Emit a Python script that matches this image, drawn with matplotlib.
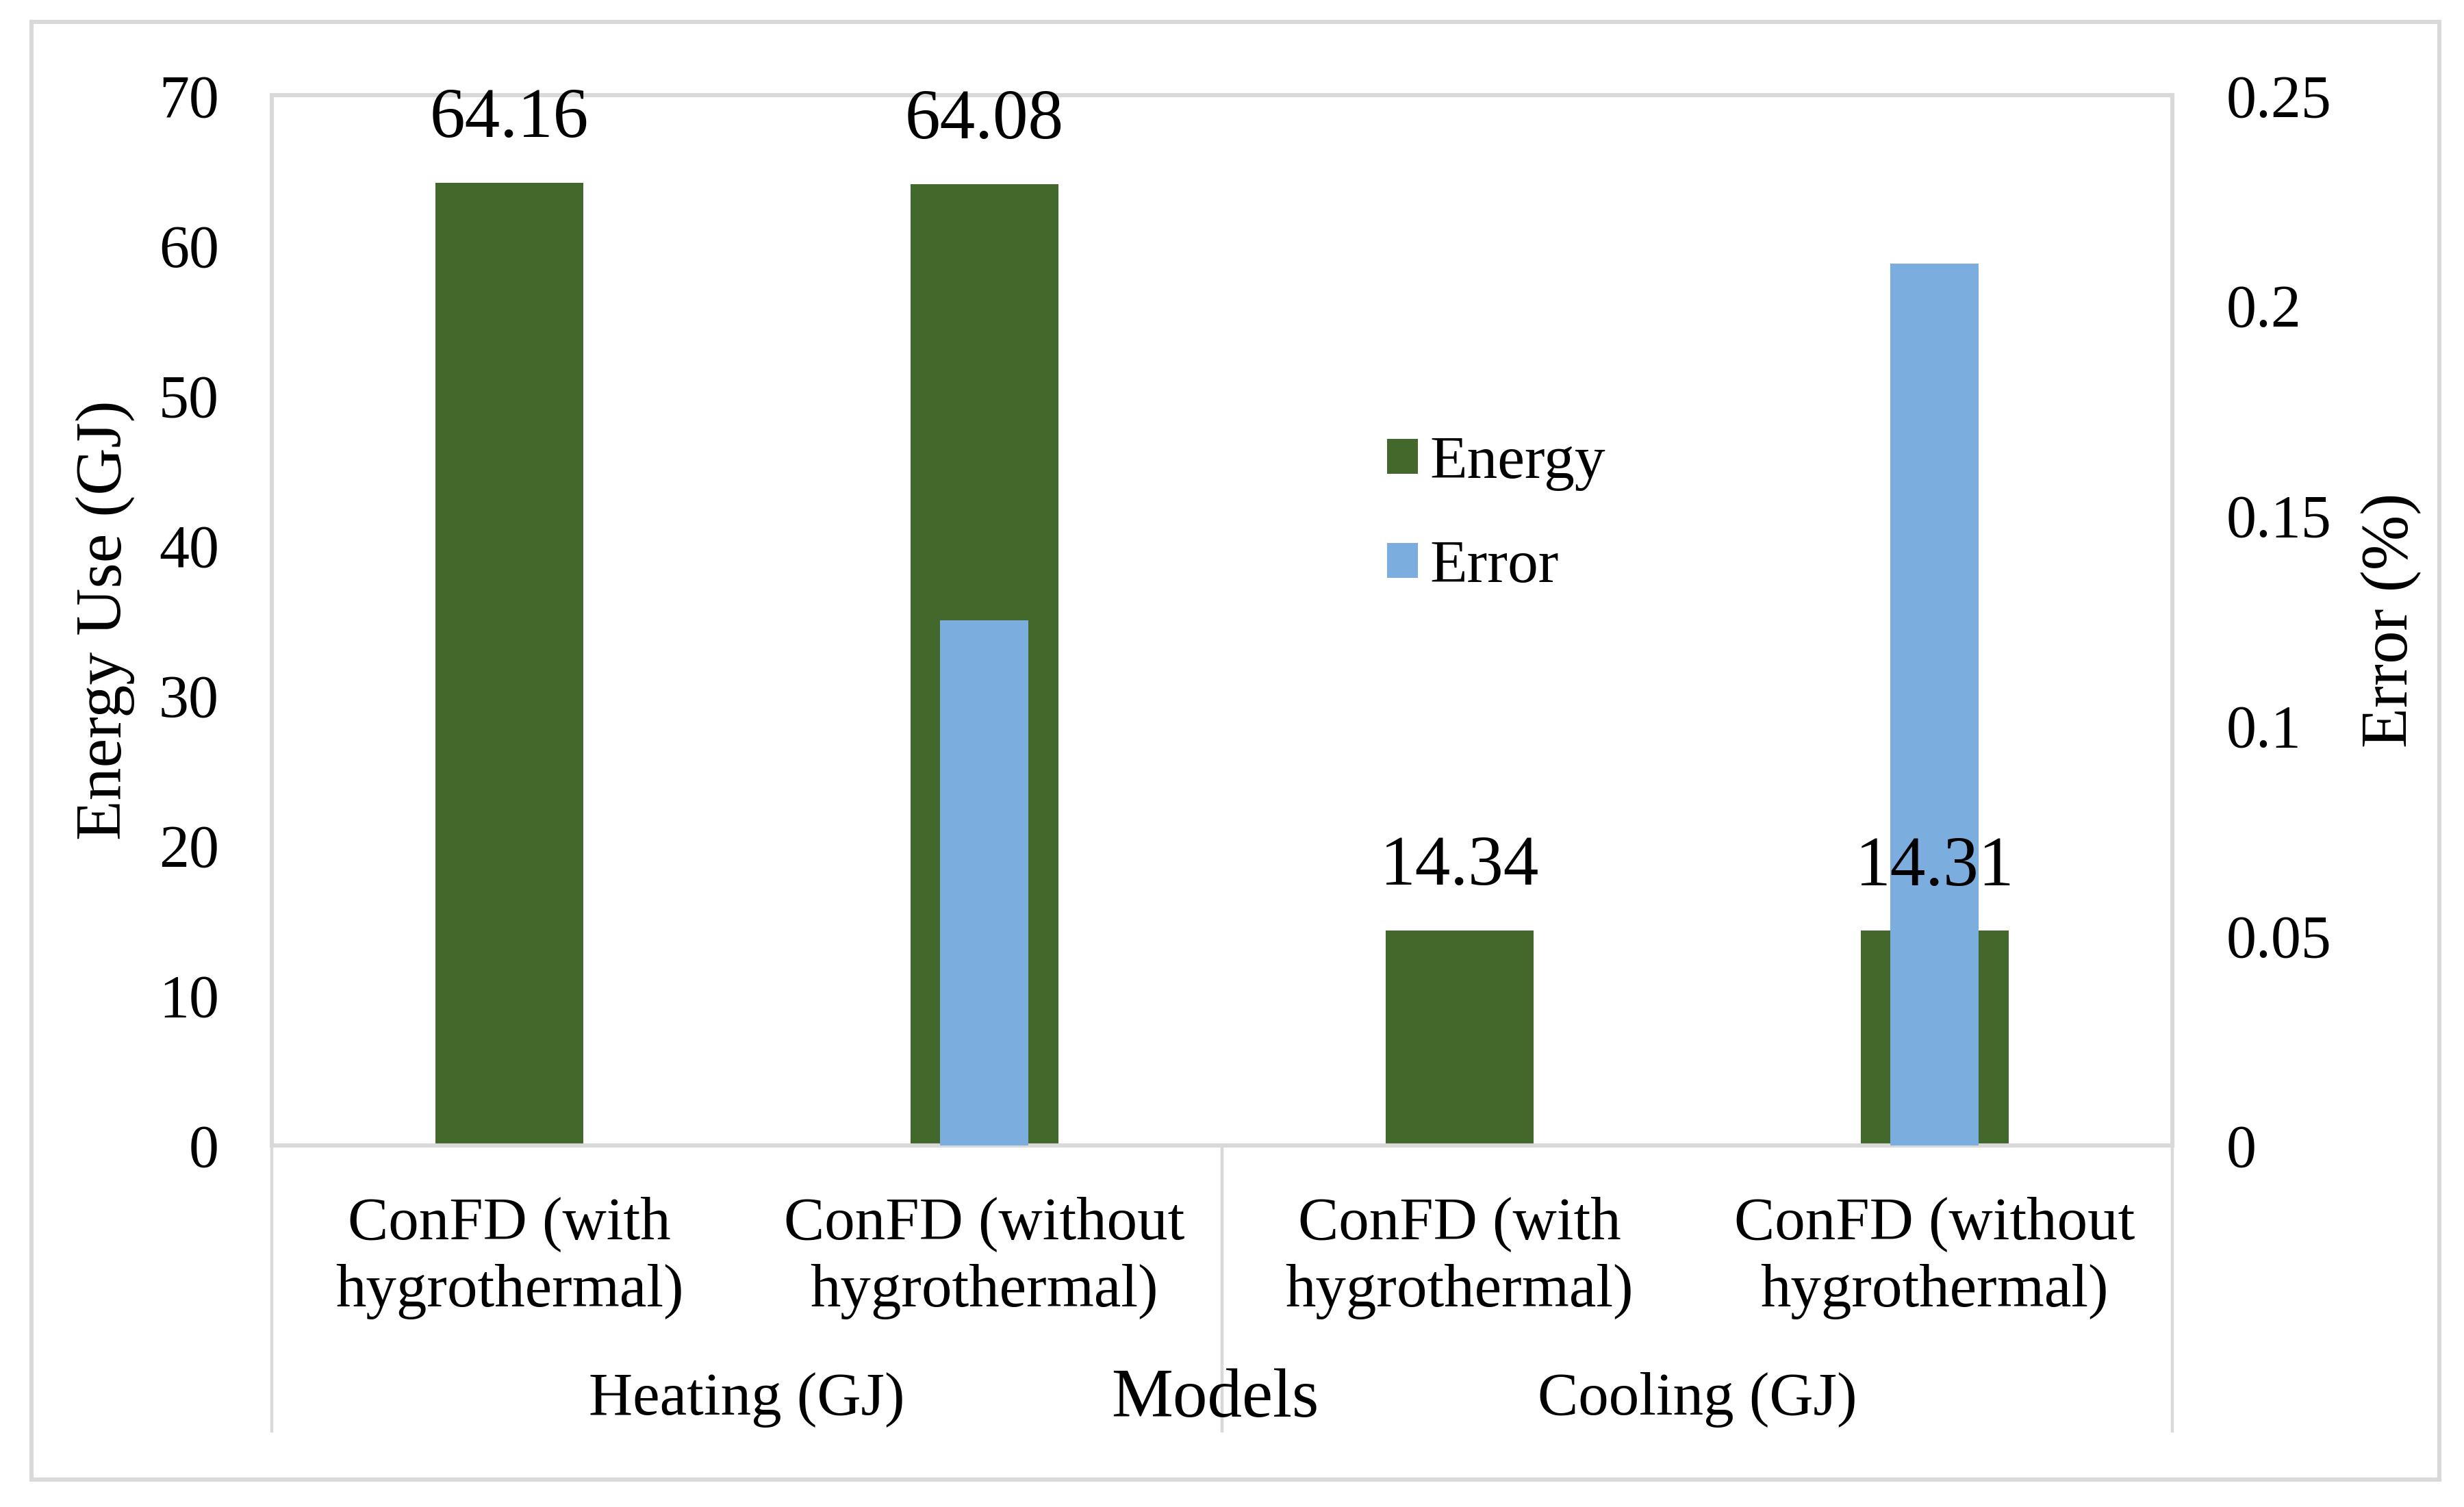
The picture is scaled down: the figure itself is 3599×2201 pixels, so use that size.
import matplotlib
matplotlib.use("Agg")
import matplotlib.pyplot as plt
from matplotlib.patches import Rectangle
from matplotlib.lines import Line2D

# ---- data ----
categories = ["ConFD (with\nhygrothermal)", "ConFD (without\nhygrothermal)",
              "ConFD (with\nhygrothermal)", "ConFD (without\nhygrothermal)"]
groups = ["Heating (GJ)", "Cooling (GJ)"]
group_centers = [0.5, 2.5]
energy = [64.16, 64.08, 14.34, 14.31]
energy_labels = ["64.16", "64.08", "14.34", "14.31"]
error = [0.0, 0.125, 0.0, 0.21]
left_ticks = [0, 10, 20, 30, 40, 50, 60, 70]
right_ticks = [0, 0.05, 0.1, 0.15, 0.2, 0.25]
right_tick_labels = ["0", "0.05", "0.1", "0.15", "0.2", "0.25"]

GREEN = "#43682b"
BLUE = "#7badde"
GRAY = "#d9d9d9"

plt.rcParams["font.family"] = ["Liberation Serif", "DejaVu Serif"]

fig = plt.figure(figsize=(17.995, 11.005), dpi=200)
ax = fig.add_axes([0.1103, 0.2399, 0.7713, 0.6969])
ax2 = ax.twinx()

x = list(range(len(categories)))
b1 = ax.bar(x, energy, width=0.311, color=GREEN, label="Energy", zorder=2)
b2 = ax2.bar(x, error, width=0.186, color=BLUE, label="Error", zorder=2)

ax.set_xlim(-0.5, 3.5)
ax.set_ylim(0, 70)
ax2.set_ylim(0, 0.25)
ax.set_yticks(left_ticks)
ax.set_yticklabels([str(t) for t in left_ticks])
ax2.set_yticks(right_ticks)
ax2.set_yticklabels(right_tick_labels)
ax.set_xticks([])

ax.tick_params(axis="y", length=0, pad=27.7, labelsize=31.7)
ax2.tick_params(axis="y", length=0, pad=28.4, labelsize=31.7)

for sp in ax.spines.values():
    sp.set_color(GRAY)
    sp.set_linewidth(2.2)
for sp in ax2.spines.values():
    sp.set_visible(False)

# data labels (on top of everything)
for i, (v, lab) in enumerate(zip(energy, energy_labels)):
    ax2.annotate(lab, xy=(i, v), xycoords=ax.transData, xytext=(0, 33),
                 textcoords="offset points", ha="center", va="center",
                 fontsize=37.2, color="black", zorder=5)

# category labels
xt = ax.get_xaxis_transform()
for i, c in enumerate(categories):
    ax.text(i, -0.107, c, transform=xt, ha="center", va="center",
            fontsize=32, linespacing=1.29)
for gc, g in zip(group_centers, groups):
    ax.text(gc, -0.2425, g, transform=xt, ha="center", va="center", fontsize=32)
ax.text(1.486, -0.2425, "Models", transform=xt, ha="center", va="center", fontsize=36.4)

# separator lines below the axis
for xp in [0.0, 0.5, 1.0]:
    ln = Line2D([xp, xp], [0, -0.272], transform=ax.transAxes, color=GRAY,
                lw=1.6, clip_on=False)
    ax.add_artist(ln)

# axis labels
ax.set_ylabel("Energy Use (GJ)", fontsize=34.5)
ax.yaxis.label.set_va("center")
ax.yaxis.set_label_coords(-0.0875, 0.5)
ax2.set_ylabel("Error (%)", fontsize=34.8, rotation=90)
ax2.yaxis.label.set_va("center")
ax2.yaxis.set_label_coords(1.1153, 0.5)

# legend
ax2.legend([b1, b2], ["Energy", "Error"], loc="center left",
           bbox_to_anchor=(0.587, 0.600), frameon=False, fontsize=32.2,
           handlelength=0.5, handleheight=0.5, handletextpad=0.19,
           labelspacing=0.8, borderpad=0, borderaxespad=0)

# outer frame
fx0, fx1, fy0, fy1 = 0.0128, 0.99, 0.0182, 0.9855
fig.patches.append(Rectangle((fx0, fy0), fx1 - fx0, fy1 - fy0,
                             transform=fig.transFigure, fill=False,
                             edgecolor=GRAY, lw=2.2))

fig.savefig("out.png", dpi=200, facecolor="white")
